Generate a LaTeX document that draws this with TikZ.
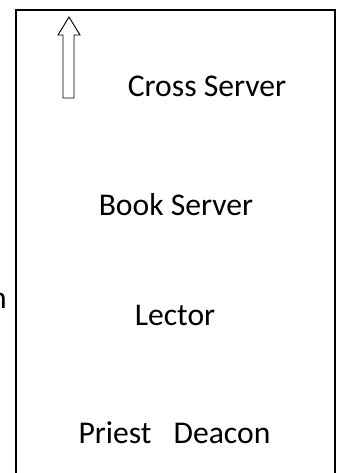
\documentclass[tikz,border=0pt]{standalone}
\usepackage{fontspec}
\setmainfont{Carlito}
\usepackage{tikz}

\begin{document}
\begin{tikzpicture}[x=0.03cm, y=-0.03cm,
	rank/.style={anchor=base, font=\fontsize{27}{32}\selectfont, inner sep=0pt}]
\useasboundingbox (0,0) rectangle (342,473);
\clip (0,0) rectangle (342,473);
\draw[black, line width=0.9pt](16,480)--(16,10)--(335,10)--(335,480);
\draw[black, line width=0.8pt](63,98)--(63,35)--(58,35)--(69,17)--(80,35)--(74,35)--(74,98)--cycle;
\node[rank] (cross) at (207,96) {Cross Server};
\node[rank] (book) at (176,215) {Book Server};
\node[rank] (lector) at (175,325) {Lector};
\node[rank] (priest) at (115,443) {Priest};
\node[rank] (deacon) at (222,443) {Deacon};
\node[rank, anchor=base east] (cut) at (7,308) {n};
\end{tikzpicture}
\end{document}
